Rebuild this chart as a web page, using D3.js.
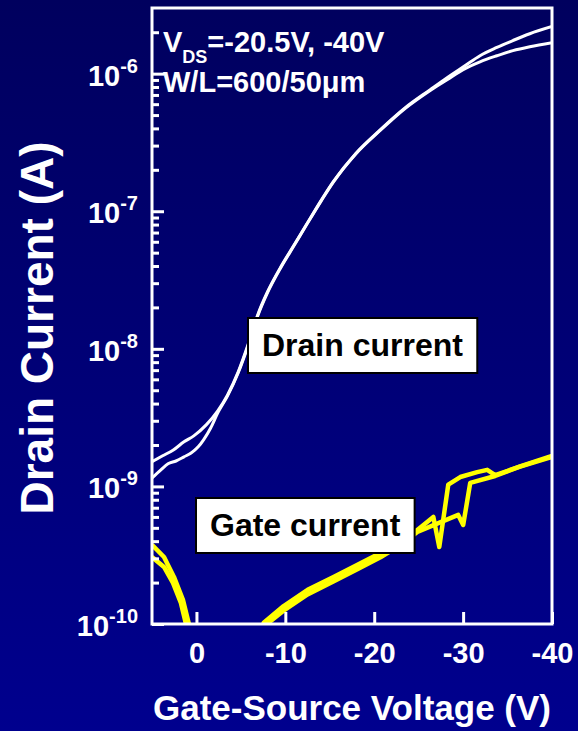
<!DOCTYPE html>
<html>
<head>
<meta charset="utf-8">
<script src="https://cdn.jsdelivr.net/npm/d3@7"></script>
<style>
  body { margin: 0; background: #000070; }
  text { font-family: "Liberation Sans", Arial, sans-serif; font-weight: bold; }
</style>
</head>
<body>
<div id="chart"></div>
<script>
// Drain current, two drain biases
var drainV_40 = [5, 3.8, 2.6, 1.4, 0.3, -1.1, -2.4, -3.5, -4.7, -5.8, -6.9, -8, -9.5, -11, -12.5, -14, -15.4, -17.9, -20.7, -23.5, -26.3, -28.2, -30.2, -31.9, -33.8, -35.6, -37.5, -40];
var drainI_40 = [1.51e-9, 1.67e-9, 1.84e-9, 2.11e-9, 2.33e-9, 2.80e-9, 3.54e-9, 4.63e-9, 6.8e-9, 1.07e-8, 1.77e-8, 2.60e-8, 3.95e-8, 5.70e-8, 8.24e-8, 1.19e-7, 1.64e-7, 2.62e-7, 3.92e-7, 5.66e-7, 7.65e-7, 9.35e-7, 1.14e-6, 1.35e-6, 1.55e-6, 1.74e-6, 1.95e-6, 2.20e-6];

var drainV_20 = [5, 4, 3.2, 2.3, 1.4, 0.6, -0.2, -0.8, -1.6, -2.4, -3.5, -4.7, -5.8, -6.9, -8, -9.5, -11, -12.5, -14, -15.4, -17.9, -20.7, -23.5, -26.3, -28.2, -30, -31.9, -33.8, -35.6, -37.5, -40];
var drainI_20 = [1.15e-9, 1.32e-9, 1.46e-9, 1.53e-9, 1.64e-9, 1.75e-9, 1.94e-9, 2.18e-9, 2.66e-9, 3.42e-9, 4.55e-9, 6.7e-9, 1.05e-8, 1.74e-8, 2.56e-8, 3.9e-8, 5.65e-8, 8.2e-8, 1.18e-7, 1.63e-7, 2.6e-7, 3.88e-7, 5.6e-7, 7.55e-7, 9.04e-7, 1.07e-6, 1.22e-6, 1.35e-6, 1.47e-6, 1.57e-6, 1.68e-6];

// Gate current (|Ig|), null = sign change, no value on log axis
var gateV_A = [5, 3.65, 2.53, 1.52, 0.85, 0.5, -3, -7.1, -7.57, -9.81, -12.51, -15.42, -18.12, -20.7, -22.94, -24.85, -26.65, -27.32, -28.33, -29.68, -31.58, -32.71, -33.6, -36.41, -40];
var gateI_A = [3.76e-10, 3.07e-10, 2.20e-10, 1.50e-10, 1.0e-10, 7.6e-11, null, 8.3e-11, 1.02e-10, 1.35e-10, 1.77e-10, 2.20e-10, 2.69e-10, 3.28e-10, 4.01e-10, 4.83e-10, 6.0e-10, 3.63e-10, 1.03e-9, 1.17e-9, 1.27e-9, 1.32e-9, 1.21e-9, 1.39e-9, 1.64e-9];

var gateV_B = [5, 3.65, 2.64, 1.75, 1.18, 0.85, -3, -7.0, -7.5, -9.8, -12.5, -15.4, -18.1, -20.7, -22.9, -24.85, -29.45, -30.01, -30.8, -33.6, -36.41, -40];
var gateI_B = [3.07e-10, 2.60e-10, 1.99e-10, 1.42e-10, 1.0e-10, 7.6e-11, null, 8.0e-11, 0.95e-10, 1.25e-10, 1.64e-10, 2.04e-10, 2.50e-10, 3.05e-10, 3.73e-10, 4.67e-10, 6.21e-10, 5.25e-10, 1.06e-9, 1.19e-9, 1.40e-9, 1.67e-9];

var xTicks = [0, -10, -20, -30, -40];
var yMajor = [1e-6, 1e-7, 1e-8, 1e-9, 1e-10];
var yExps = ['-6', '-7', '-8', '-9', '-10'];

var W = 578, H = 731;
var svg = d3.select('#chart').append('svg')
  .attr('width', W)
  .attr('height', H);

var grad = svg.append('defs').append('linearGradient')
  .attr('id', 'bg')
  .attr('x1', 0).attr('y1', 0).attr('x2', 0).attr('y2', 1);
grad.append('stop').attr('offset', '0%').attr('stop-color', '#00005e');
grad.append('stop').attr('offset', '100%').attr('stop-color', '#00008e');
svg.append('rect').attr('width', W).attr('height', H).attr('fill', 'url(#bg)');

var x = d3.scaleLinear().domain([5, -40]).range([152, 552]);
var y = d3.scaleLog().domain([1e-10, 3e-6]).range([624, 8]);

svg.select('defs').append('clipPath').attr('id', 'plot')
  .append('rect')
  .attr('x', x(5)).attr('y', y(3e-6))
  .attr('width', x(-40) - x(5)).attr('height', y(1e-10) - y(3e-6));

function zip(vs, is) {
  return vs.map(function(v, k) { return { v: v, i: is[k] }; });
}

var smooth = d3.line()
  .x(function(d) { return x(d.v); })
  .y(function(d) { return y(d.i); })
  .curve(d3.curveMonotoneX);

var straight = d3.line()
  .defined(function(d) { return d.i != null; })
  .x(function(d) { return x(d.v); })
  .y(function(d) { return y(d.i); });

var curves = svg.append('g').attr('clip-path', 'url(#plot)');

[zip(drainV_40, drainI_40), zip(drainV_20, drainI_20)].forEach(function(s) {
  curves.append('path')
    .attr('d', smooth(s))
    .attr('fill', 'none')
    .attr('stroke', '#ffffff')
    .attr('stroke-width', 3);
});

[zip(gateV_A, gateI_A), zip(gateV_B, gateI_B)].forEach(function(s) {
  curves.append('path')
    .attr('d', straight(s))
    .attr('fill', 'none')
    .attr('stroke', '#ffff00')
    .attr('stroke-width', 4.5)
    .attr('stroke-linejoin', 'round');
});

// axes, ticks pointing inward
var minor = y.ticks().filter(function(t) {
  var m = Math.round(t / Math.pow(10, Math.floor(Math.log10(t) + 1e-9)));
  return m !== 1 && t < 2.9e-6;
});

var yMinorG = svg.append('g')
  .attr('transform', 'translate(' + x(5) + ',0)')
  .call(d3.axisLeft(y).tickValues(minor).tickSize(-7).tickFormat(''));
var yMajorG = svg.append('g')
  .attr('transform', 'translate(' + x(5) + ',0)')
  .call(d3.axisLeft(y).tickValues(yMajor).tickSize(-12).tickFormat(''));
var xG = svg.append('g')
  .attr('transform', 'translate(0,' + y(1e-10) + ')')
  .call(d3.axisBottom(x).tickValues(xTicks).tickSize(-12).tickPadding(18)
    .tickFormat(function(d) { return d === 0 ? '0' : '-' + Math.abs(d); }));

[yMinorG, yMajorG, xG].forEach(function(g) {
  g.select('.domain').remove();
  g.selectAll('line').attr('stroke', '#ffffff').attr('stroke-width', 3);
});
xG.selectAll('text')
  .attr('fill', '#ffffff')
  .attr('font-size', 29)
  .style('font-family', '"Liberation Sans", Arial, sans-serif')
  .style('font-weight', 'bold');

svg.append('rect')
  .attr('x', x(5)).attr('y', y(3e-6))
  .attr('width', x(-40) - x(5)).attr('height', y(1e-10) - y(3e-6))
  .attr('fill', 'none')
  .attr('stroke', '#ffffff')
  .attr('stroke-width', 3);

// y tick labels 10^n
yMajor.forEach(function(v, k) {
  var t = svg.append('text')
    .attr('x', 138)
    .attr('y', y(v) + 12)
    .attr('text-anchor', 'end')
    .attr('fill', '#ffffff')
    .attr('font-size', 29);
  t.append('tspan').text('10');
  t.append('tspan').attr('dy', -13).attr('font-size', 20).text(yExps[k]);
});

// axis titles
svg.append('text')
  .attr('transform', 'translate(53,' + 328 + ') rotate(-90)')
  .attr('text-anchor', 'middle')
  .attr('fill', '#ffffff')
  .attr('font-size', 46)
  .text('Drain Current (A)');

svg.append('text')
  .attr('x', (x(5) + x(-40)) / 2)
  .attr('y', 720)
  .attr('text-anchor', 'middle')
  .attr('fill', '#ffffff')
  .attr('font-size', 35)
  .text('Gate-Source Voltage (V)');

// condition text
var cond = svg.append('text')
  .attr('x', 163).attr('y', 52)
  .attr('fill', '#ffffff')
  .attr('font-size', 29);
cond.append('tspan').text('V');
cond.append('tspan').attr('dy', 11).attr('font-size', 18).text('DS');
cond.append('tspan').attr('dy', -11).text('=-20.5V, -40V');

svg.append('text')
  .attr('x', 163).attr('y', 92)
  .attr('fill', '#ffffff')
  .attr('font-size', 29)
  .text('W/L=600/50\u03bcm');

// boxed labels
function boxLabel(tx, ty, label) {
  var g = svg.append('g');
  var r = g.append('rect');
  var t = g.append('text')
    .attr('x', tx).attr('y', ty)
    .attr('fill', '#000000')
    .attr('font-size', 32)
    .text(label);
  var b = t.node().getBBox();
  r.attr('x', b.x - 14).attr('y', b.y - 9)
    .attr('width', b.width + 28).attr('height', b.height + 19)
    .attr('fill', '#ffffff')
    .attr('stroke', '#000000')
    .attr('stroke-width', 2);
}

boxLabel(262, 356, 'Drain current');
boxLabel(210, 536, 'Gate current');
</script>
</body>
</html>
